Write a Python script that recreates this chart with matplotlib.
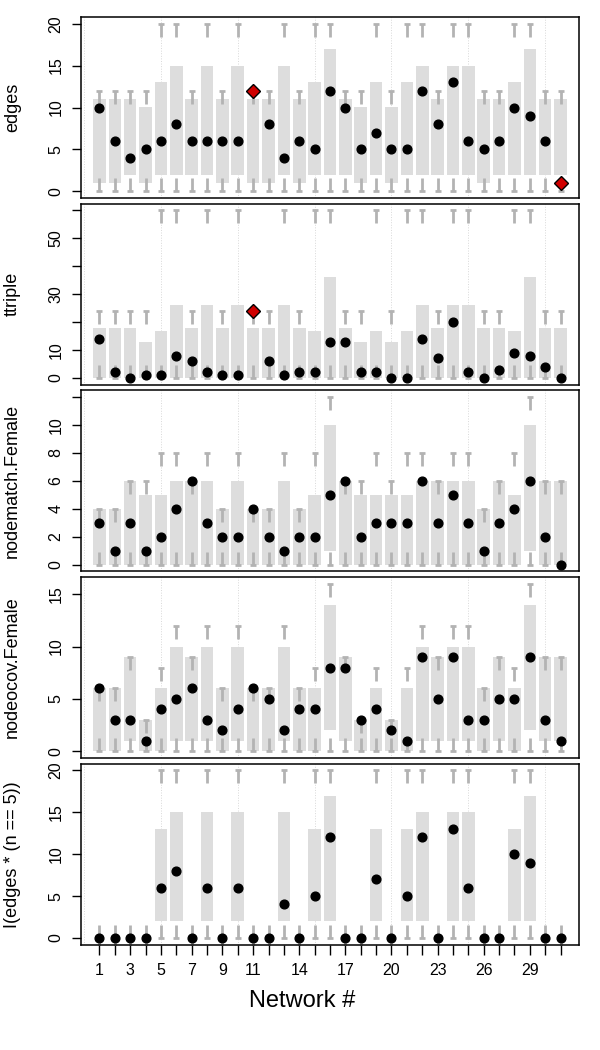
import numpy as np
import matplotlib
matplotlib.use("Agg")
import matplotlib.pyplot as plt
from matplotlib.path import Path

plt.rcParams['font.family'] = ['Liberation Sans', 'DejaVu Sans']

# network ids and which ones get a printed tick label
net_ids = list(range(1, 32))
shown_ticks = [1, 3, 5, 7, 9, 11, 14, 17, 20, 23, 26, 29]

# edges
edges_obs = [10, 6, 4, 5, 6, 8, 6, 6, 6, 6, 12, 8, 4, 6, 5, 12, 10, 5, 7, 5, 5, 12, 8, 13, 6, 5, 6, 10, 9, 6, 1]
edges_lo = [1, 1, 2, 1, 2, 2, 2, 2, 1, 2, 1, 1, 2, 1, 2, 2, 2, 1, 2, 1, 2, 2, 2, 2, 2, 1, 2, 2, 2, 2, 2]
edges_hi = [11, 11, 11, 10, 13, 15, 11, 15, 11, 15, 11, 11, 15, 11, 13, 17, 11, 10, 13, 10, 13, 15, 11, 15, 15, 11, 11, 13, 17, 11, 11]
edges_max = [12, 12, 12, 12, 20, 20, 12, 20, 12, 20, 12, 12, 20, 12, 20, 20, 12, 12, 20, 12, 20, 20, 12, 20, 20, 12, 12, 20, 20, 12, 12]
edges_min = [0] * 31

# ttriple
tt_obs = [14, 2, 0, 1, 1, 8, 6, 2, 1, 1, 24, 6, 1, 2, 2, 13, 13, 2, 2, 0, 0, 14, 7, 20, 2, 0, 3, 9, 8, 4, 0]
tt_lo = [0] * 31
tt_hi = [18, 18, 18, 13, 17, 26, 18, 26, 18, 26, 18, 18, 26, 18, 17, 36, 18, 13, 17, 13, 17, 26, 18, 26, 26, 18, 18, 17, 36, 18, 18]
tt_max = [24, 24, 24, 24, 60, 60, 24, 60, 24, 60, 24, 24, 60, 24, 60, 60, 24, 24, 60, 24, 60, 60, 24, 60, 60, 24, 24, 60, 60, 24, 24]
tt_min = [0] * 31

# nodematch.Female
nm_obs = [3, 1, 3, 1, 2, 4, 6, 3, 2, 2, 4, 2, 1, 2, 2, 5, 6, 2, 3, 3, 3, 6, 3, 5, 3, 1, 3, 4, 6, 2, 0]
nm_lo = [0, 0, 0, 0, 0, 0, 0, 0, 0, 0, 0, 0, 0, 0, 0, 1, 0, 0, 0, 0, 0, 0, 0, 0, 0, 0, 0, 0, 1, 0, 0]
nm_hi = [4, 4, 6, 5, 5, 6, 6, 6, 4, 6, 4, 4, 6, 4, 5, 10, 6, 5, 5, 5, 5, 6, 6, 6, 6, 4, 6, 5, 10, 6, 6]
nm_max = [4, 4, 6, 6, 8, 8, 6, 8, 4, 8, 4, 4, 8, 4, 8, 12, 6, 6, 8, 6, 8, 8, 6, 8, 8, 4, 6, 8, 12, 6, 6]
nm_min = [0] * 31

# nodeocov.Female
no_obs = [6, 3, 3, 1, 4, 5, 6, 3, 2, 4, 6, 5, 2, 4, 4, 8, 8, 3, 4, 2, 1, 9, 5, 9, 3, 3, 5, 5, 9, 3, 1]
no_lo = [0, 0, 1, 0, 0, 1, 1, 1, 0, 1, 0, 0, 1, 0, 0, 2, 1, 0, 0, 0, 0, 1, 1, 1, 1, 0, 1, 0, 2, 1, 1]
no_hi = [6, 6, 9, 3, 6, 10, 9, 10, 6, 10, 6, 6, 10, 6, 6, 14, 9, 3, 6, 3, 6, 10, 9, 10, 10, 6, 9, 6, 14, 9, 9]
no_max = [6, 6, 9, 3, 8, 12, 9, 12, 6, 12, 6, 6, 12, 6, 8, 16, 9, 3, 8, 3, 8, 12, 9, 12, 12, 6, 9, 8, 16, 9, 9]
no_min = [0] * 31

# I(edges * (n == 5))
i5_obs = [0, 0, 0, 0, 6, 8, 0, 6, 0, 6, 0, 0, 4, 0, 5, 12, 0, 0, 7, 0, 5, 12, 0, 13, 6, 0, 0, 10, 9, 0, 0]
i5_lo = [0, 0, 0, 0, 2, 2, 0, 2, 0, 2, 0, 0, 2, 0, 2, 2, 0, 0, 2, 0, 2, 2, 0, 2, 2, 0, 0, 2, 2, 0, 0]
i5_hi = [0, 0, 0, 0, 13, 15, 0, 15, 0, 15, 0, 0, 15, 0, 13, 17, 0, 0, 13, 0, 13, 15, 0, 15, 15, 0, 0, 13, 17, 0, 0]
i5_max = [0, 0, 0, 0, 20, 20, 0, 20, 0, 20, 0, 0, 20, 0, 20, 20, 0, 0, 20, 0, 20, 20, 0, 20, 20, 0, 0, 20, 20, 0, 0]
i5_min = [0] * 31

panels = [
    ("edges", edges_obs, edges_lo, edges_hi, edges_min, edges_max, [0, 5, 10, 15, 20], [0, 5, 10, 15, 20]),
    ("ttriple", tt_obs, tt_lo, tt_hi, tt_min, tt_max, [0, 10, 20, 30, 40, 50, 60], [0, 10, 30, 50]),
    ("nodematch.Female", nm_obs, nm_lo, nm_hi, nm_min, nm_max, [0, 2, 4, 6, 8, 10, 12], [0, 2, 4, 6, 8, 10]),
    ("nodeocov.Female", no_obs, no_lo, no_hi, no_min, no_max, [0, 5, 10, 15], [0, 5, 10, 15]),
    ("I(edges * (n == 5))", i5_obs, i5_lo, i5_hi, i5_min, i5_max, [0, 5, 10, 15, 20], [0, 5, 10, 15, 20]),
]

# T-shaped marks for the min / max of each statistic
top_mark = Path([(0, 0), (0, -1), (-0.22, 0), (0.22, 0)],
                [Path.MOVETO, Path.LINETO, Path.MOVETO, Path.LINETO])
bot_mark = Path([(0, 0), (0, 1), (-0.22, 0), (0.22, 0)],
                [Path.MOVETO, Path.LINETO, Path.MOVETO, Path.LINETO])

bar_col = '#DDDDDD'
mark_col = '#B3B3B3'

fig = plt.figure(figsize=(6, 10.5), dpi=100)
W, H = 600, 1050
left, width = 81 / W, 498 / W
ph = 181
tops = [17, 203.7, 390.3, 577, 763.7]

x = np.array(net_ids)
for i, (name, obs, lo, hi, mn, mx, ticks, labelled) in enumerate(panels):
    ax = fig.add_axes([left, 1 - (tops[i] + ph) / H, width, ph / H])
    obs = np.array(obs); lo = np.array(lo); hi = np.array(hi)
    for v in range(0, 31, 5):
        ax.axvline(v, color='#D8D8D8', ls=':', lw=0.7, zorder=0)
    ax.bar(x, hi - lo, bottom=lo, width=0.82, color=bar_col, zorder=1)
    ax.plot(x, mx, ls='none', marker=top_mark, ms=19, mec=mark_col, mfc='none', mew=2, zorder=2)
    ax.plot(x, mn, ls='none', marker=bot_mark, ms=19, mec=mark_col, mfc='none', mew=2, zorder=2)
    out = (obs < lo) | (obs > hi)
    ax.plot(x[~out], obs[~out], ls='none', marker='o', ms=6.3, color='black', zorder=3)
    ax.plot(x[out], obs[out], ls='none', marker='D', ms=6.8, mfc='#D00000', mec='black', mew=1, zorder=3)

    ymin, ymax = min(mn), max(mx)
    pad = (ymax - ymin) * 0.04
    ax.set_ylim(ymin - pad, ymax + pad)
    ax.set_xlim(1 - 1.2, 31 + 1.2)
    ax.set_yticks(ticks)
    ax.set_yticklabels([str(t) if t in labelled else '' for t in ticks])
    ax.tick_params(axis='y', length=6.5, width=1, pad=6, labelsize=11.5, labelrotation=90)
    plt.setp(ax.get_yticklabels(), va='center')
    for s in ax.spines.values():
        s.set_linewidth(1.1)
    ax.set_ylabel(name, fontsize=13)
    ax.yaxis.set_label_coords(-0.12, 0.5)
    if i < len(panels) - 1:
        ax.tick_params(axis='x', bottom=False, labelbottom=False)
    else:
        ax.set_xticks(net_ids)
        ax.set_xticklabels([str(n) if n in shown_ticks else '' for n in net_ids])
        ax.tick_params(axis='x', length=7.5, width=1, pad=6, labelsize=11.5)

fig.text(302 / W, 1 - 990 / H, 'Network #', ha='center', va='top', fontsize=17)
fig.savefig('out.png', dpi=100)
